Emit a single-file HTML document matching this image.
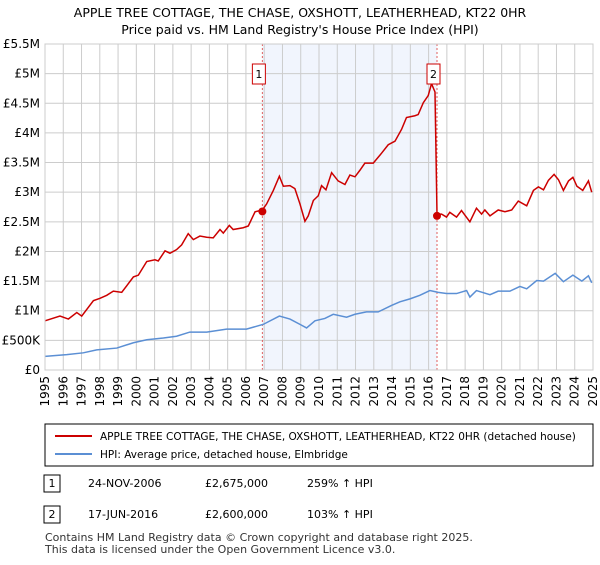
<!DOCTYPE html>
<html><head><meta charset="utf-8"><style>
body{margin:0;background:#fff;font-family:"Liberation Sans",sans-serif;}
svg text{font-family:"DejaVu Sans","Liberation Sans",sans-serif;}
</style></head><body>
<svg width="600" height="560" viewBox="0 0 600 560" xmlns="http://www.w3.org/2000/svg">
<text x="300" y="17" text-anchor="middle" font-size="12.5" fill="#000">APPLE TREE COTTAGE, THE CHASE, OXSHOTT, LEATHERHEAD, KT22 0HR</text>
<text x="300" y="34" text-anchor="middle" font-size="12.5" fill="#000">Price paid vs. HM Land Registry's House Price Index (HPI)</text>
<g id="plot"></g>
<g>
<rect x="45" y="424" width="548" height="42" fill="#fff" stroke="#000" stroke-width="1"/>
<line x1="55" y1="436" x2="92" y2="436" stroke="#cc0000" stroke-width="2"/>
<text x="100" y="440" font-size="10.5">APPLE TREE COTTAGE, THE CHASE, OXSHOTT, LEATHERHEAD, KT22 0HR (detached house)</text>
<line x1="55" y1="454" x2="92" y2="454" stroke="#5b8fd4" stroke-width="2"/>
<text x="100" y="458" font-size="10.5">HPI: Average price, detached house, Elmbridge</text>
</g>
<g font-size="11">
<rect x="44" y="475" width="16" height="17" fill="#fff" stroke="#000"/><text x="52" y="487" text-anchor="middle">1</text>
<text x="88" y="487">24-NOV-2006</text><text x="205" y="487">£2,675,000</text><text x="307" y="487">259% ↑ HPI</text>
<rect x="44" y="506" width="16" height="17" fill="#fff" stroke="#000"/><text x="52" y="518" text-anchor="middle">2</text>
<text x="88" y="518">17-JUN-2016</text><text x="205" y="518">£2,600,000</text><text x="307" y="518">103% ↑ HPI</text>
</g>
<text x="45" y="541" font-size="11" fill="#333">Contains HM Land Registry data © Crown copyright and database right 2025.</text>
<text x="45" y="553" font-size="11" fill="#333">This data is licensed under the Open Government Licence v3.0.</text>
</svg>
<script>
const yTicks=[0,0.5,1,1.5,2,2.5,3,3.5,4,4.5,5,5.5];
const yTickLabels=['£0','£500K','£1M','£1.5M','£2M','£2.5M','£3M','£3.5M','£4M','£4.5M','£5M','£5.5M'];
const xYears=[1995,1996,1997,1998,1999,2000,2001,2002,2003,2004,2005,2006,2007,2008,2009,2010,2011,2012,2013,2014,2015,2016,2017,2018,2019,2020,2021,2022,2023,2024,2025];
const redT=[1995,1995.82,1996.28,1996.74,1997.01,1997.65,1998.01,1998.38,1998.74,1999.2,1999.84,2000.11,2000.57,2001.02,2001.2,2001.57,2001.84,2002.2,2002.48,2002.84,2003.12,2003.48,2003.85,2004.21,2004.58,2004.76,2005.09,2005.3,2005.85,2006.13,2006.5,2006.9,2007.13,2007.5,2007.83,2008.05,2008.41,2008.68,2008.96,2009.23,2009.41,2009.69,2009.96,2010.14,2010.38,2010.69,2011.05,2011.42,2011.69,2011.97,2012.24,2012.51,2012.97,2013.43,2013.79,2014.16,2014.52,2014.79,2015.25,2015.43,2015.71,2015.98,2016.16,2016.35,2016.46,2016.71,2016.98,2017.16,2017.53,2017.8,2018.26,2018.62,2018.9,2019.08,2019.36,2019.81,2020.18,2020.55,2020.91,2021.37,2021.74,2022.01,2022.29,2022.56,2022.87,2023.11,2023.38,2023.66,2023.9,2024.12,2024.44,2024.75,2024.93];
const redV=[0.83,0.91,0.86,0.97,0.91,1.17,1.21,1.26,1.33,1.31,1.57,1.6,1.83,1.86,1.84,2.01,1.97,2.03,2.11,2.3,2.2,2.26,2.24,2.23,2.37,2.31,2.44,2.37,2.4,2.43,2.67,2.7,2.8,3.03,3.27,3.1,3.11,3.06,2.8,2.51,2.6,2.86,2.94,3.11,3.04,3.33,3.19,3.13,3.29,3.26,3.37,3.49,3.49,3.66,3.8,3.86,4.06,4.26,4.29,4.31,4.51,4.63,4.83,4.69,2.63,2.63,2.58,2.66,2.58,2.69,2.5,2.73,2.63,2.7,2.6,2.7,2.67,2.7,2.85,2.77,3.03,3.09,3.04,3.2,3.3,3.21,3.03,3.19,3.25,3.1,3.03,3.19,3.0];
const blueT=[1995,1996.19,1997.1,1997.83,1998.93,1999.84,2000.57,2001.48,2002.2,2002.93,2003.85,2004.94,2006.03,2006.95,2007.83,2008.41,2008.96,2009.32,2009.78,2010.32,2010.78,2011.51,2011.97,2012.6,2013.24,2013.97,2014.43,2014.98,2015.52,2016.07,2016.53,2016.98,2017.53,2018.08,2018.26,2018.62,2019.36,2019.81,2020.45,2021.0,2021.37,2021.92,2022.29,2022.93,2023.38,2023.9,2024.39,2024.75,2024.93];
const blueV=[0.23,0.26,0.29,0.34,0.37,0.46,0.51,0.54,0.57,0.64,0.64,0.69,0.69,0.77,0.91,0.86,0.77,0.71,0.83,0.87,0.94,0.89,0.94,0.98,0.98,1.09,1.15,1.2,1.26,1.34,1.31,1.29,1.29,1.34,1.23,1.34,1.27,1.33,1.33,1.41,1.37,1.51,1.5,1.63,1.49,1.6,1.5,1.59,1.47];
const saleT=[2006.9,2016.46];
const saleV=[2.675,2.6];
const saleLabels=['1','2'];
</script>
<script>
(function(){
const NS='http://www.w3.org/2000/svg';
const X0=45,X1=593,Y0=370,Y1=44;
const x=t=>X0+(t-1995)/30*(X1-X0);
const y=v=>Y0-v/5.5*(Y0-Y1);
const g=document.getElementById('plot');
function el(tag,a){const e=document.createElementNS(NS,tag);for(const k in a)e.setAttribute(k,a[k]);g.appendChild(e);return e;}
const sh=el('rect',{x:x(saleT[0]),y:Y1,width:x(saleT[1])-x(saleT[0]),height:Y0-Y1,fill:'#eef3fc',opacity:0.8});


yTicks.forEach((v,i)=>{
 const l=el('line',{x1:X0,x2:X1,y1:y(v),y2:y(v),stroke:'#cccccc','stroke-width':1});
 
 
 const t=el('text',{x:40,y:y(v)+4,'text-anchor':'end','font-size':12});
 t.textContent=yTickLabels[i];
 
 
});
xYears.forEach(yr=>{
 const l=el('line',{x1:x(yr),x2:x(yr),y1:Y1,y2:Y0,stroke:'#cccccc','stroke-width':1});
 
 
 const t=el('text',{x:0,y:0,'font-size':12,'text-anchor':'end',transform:`translate(${x(yr)+4},${Y0+6}) rotate(-90)`});
 t.textContent=yr;
 
 
});
saleT.forEach((t,i)=>{
 const l=el('line',{x1:x(t),x2:x(t),y1:Y1,y2:Y0,stroke:'#e06060','stroke-width':1,'stroke-dasharray':'2,2'});
 
 
});
const bl=el('polyline',{points:blueT.map((t,i)=>x(t)+','+y(blueV[i])).join(' '),fill:'none',stroke:'#5b8fd4','stroke-width':1.5});


const rl=el('polyline',{points:redT.map((t,i)=>x(t)+','+y(redV[i])).join(' '),fill:'none',stroke:'#cc0000','stroke-width':1.5});


saleT.forEach((t,i)=>{
 const c=el('circle',{cx:x(t),cy:y(saleV[i]),r:4,fill:'#cc0000'});
 
 
 const r=el('rect',{x:x(t)-10,y:64,width:13,height:20,fill:'#fff',stroke:'#cc0000','stroke-width':1});
 
 
 const tx=el('text',{x:x(t)-3.5,y:78,'text-anchor':'middle','font-size':11});
 tx.textContent=saleLabels[i];
 
 
});
const fr=el('rect',{x:X0,y:Y1,width:X1-X0,height:Y0-Y1,fill:'none',stroke:'#cccccc'});


})();
</script>
</body></html>
